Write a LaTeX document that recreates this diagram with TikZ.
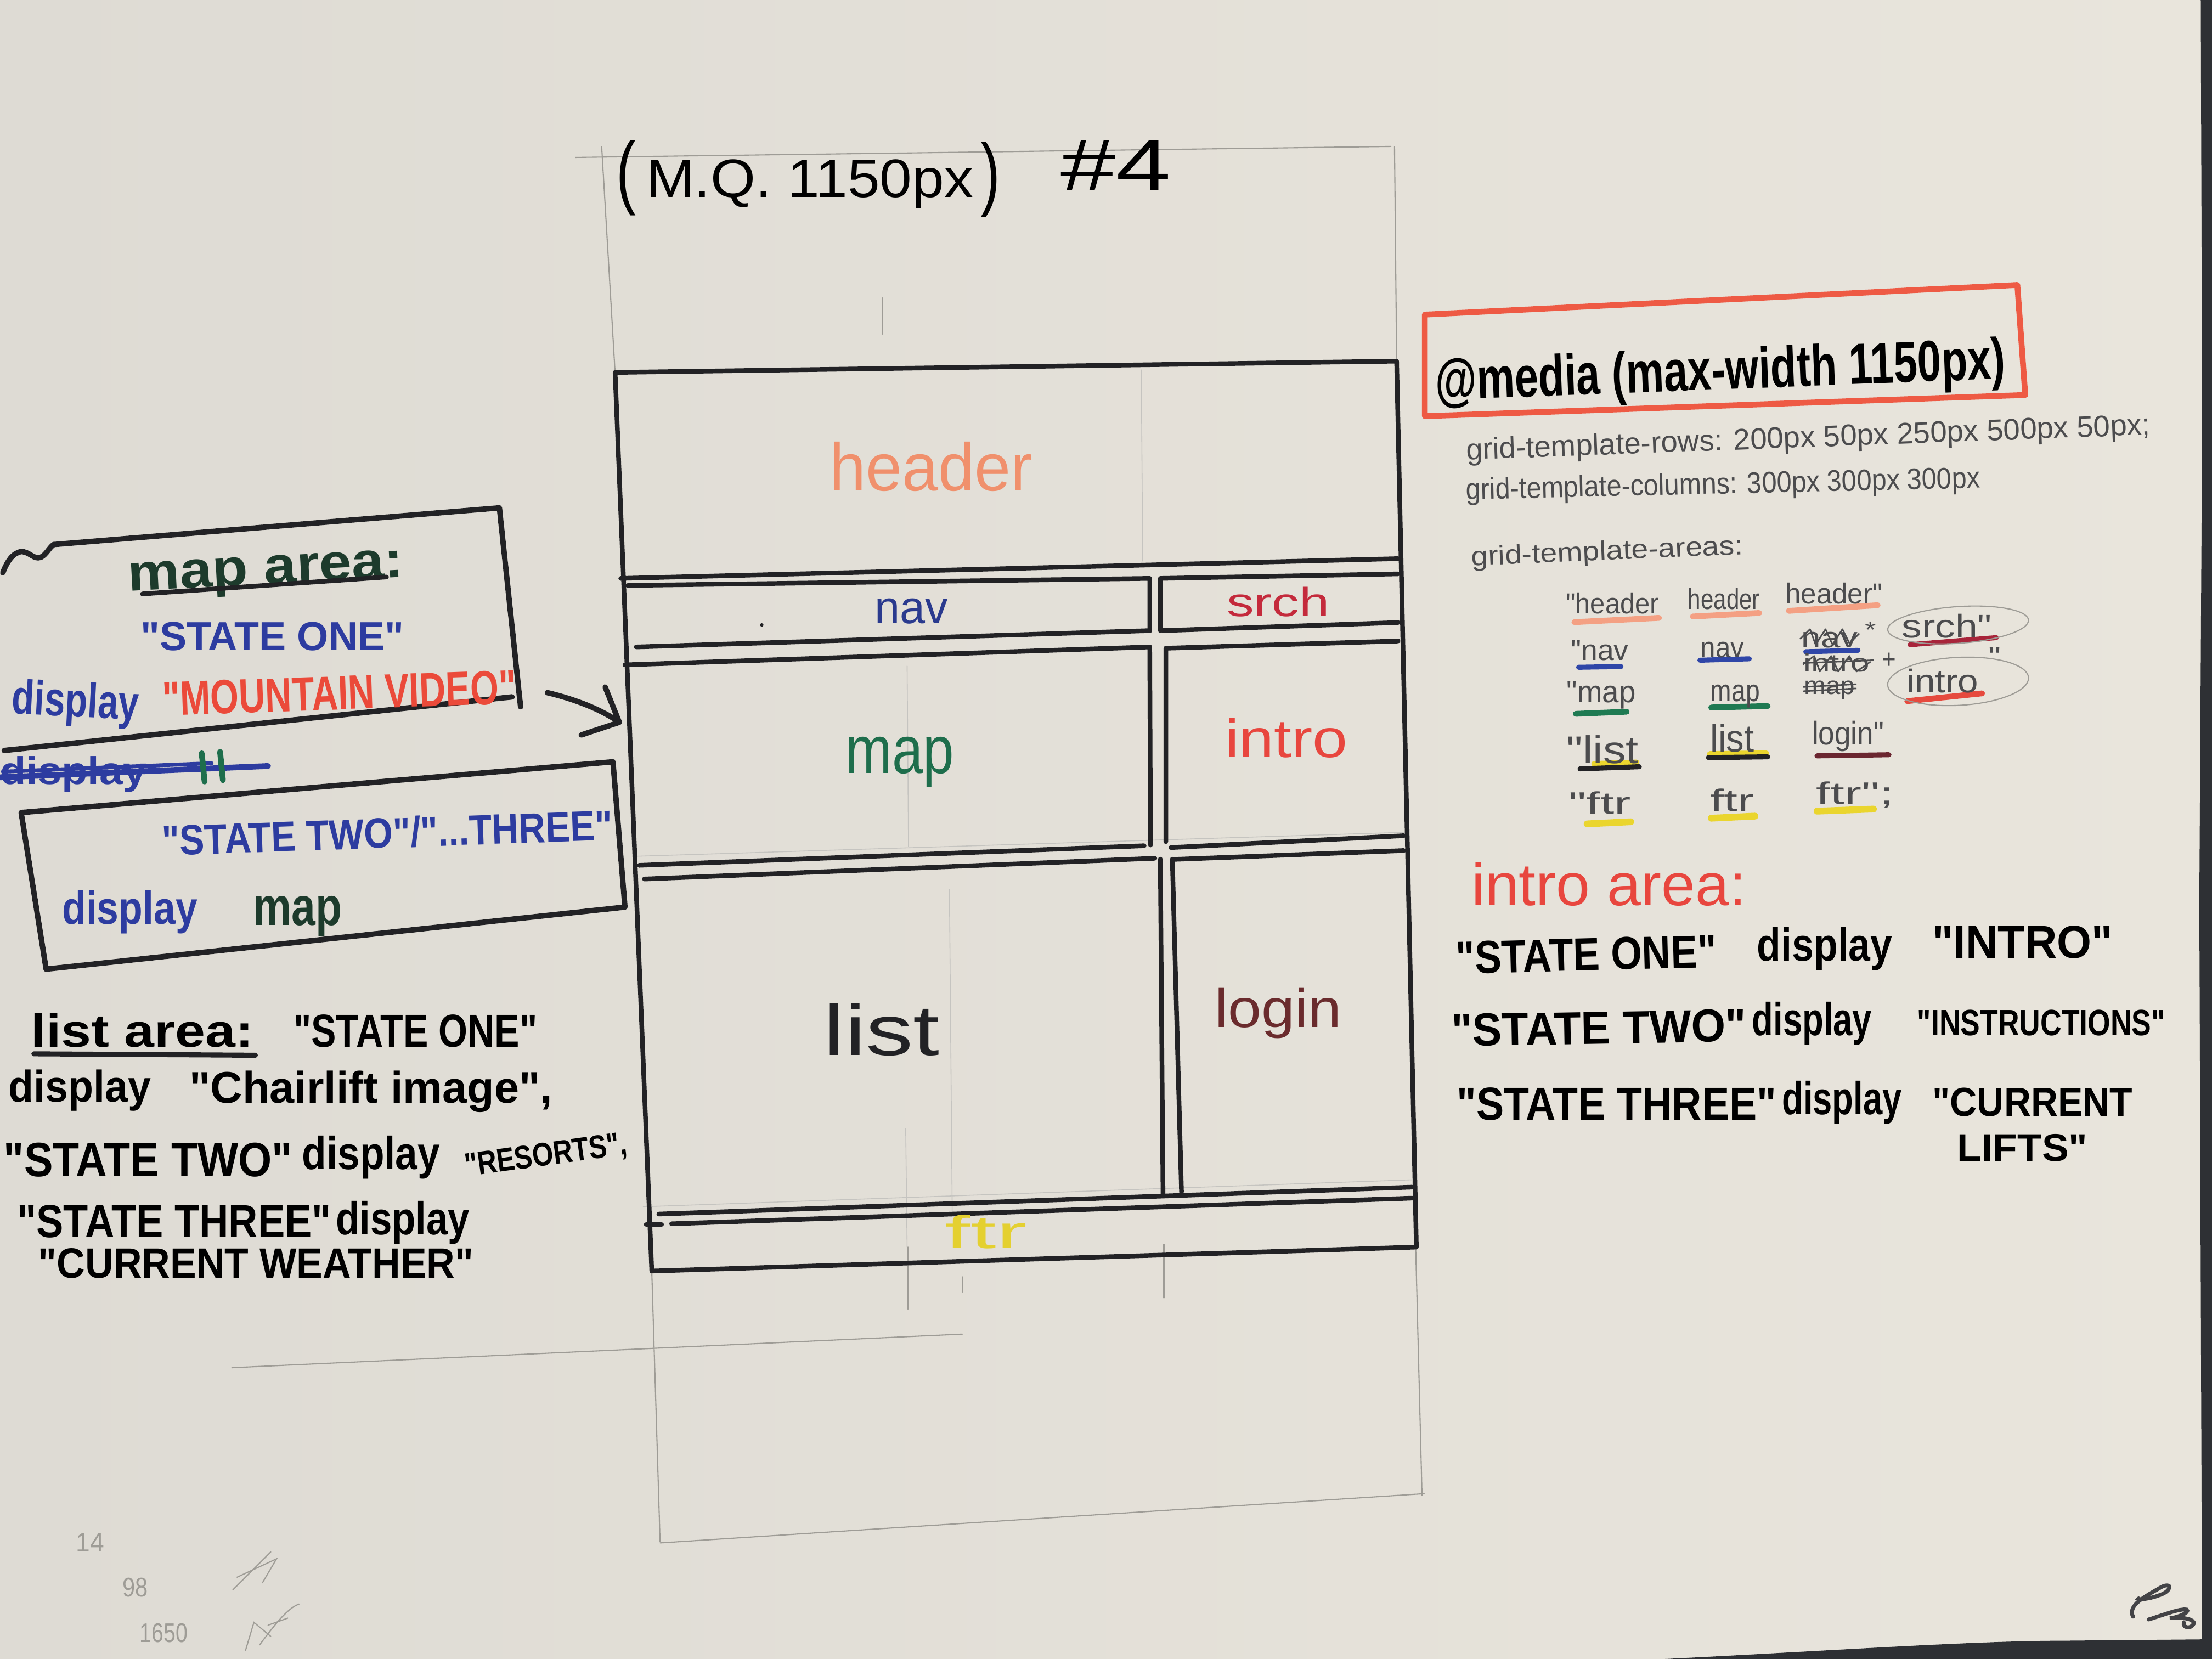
\documentclass[tikz,border=0pt]{standalone}
\usepackage{fontspec}
\setmainfont{Liberation Sans}[Ligatures=TeXOff]
\usepackage{graphicx}
\definecolor{paperL}{HTML}{DEDBD4}
\definecolor{paperR}{HTML}{E9E5DC}
\definecolor{carpet}{HTML}{2E3034}
\definecolor{inkblack}{HTML}{222225}
\definecolor{pencilgray}{HTML}{9E9C96}
\definecolor{pentext}{HTML}{4C4C4E}
\definecolor{salmon}{HTML}{F0906C}
\definecolor{navblue}{HTML}{2A3A8E}
\definecolor{srchred}{HTML}{C42A3C}
\definecolor{mapgreen}{HTML}{1E6E4C}
\definecolor{introred}{HTML}{E8463E}
\definecolor{loginbrown}{HTML}{6A2B2D}
\definecolor{ftryellow}{HTML}{E4D030}
\definecolor{mkblue}{HTML}{2D3CA0}
\definecolor{vidred}{HTML}{EB4A3A}
\definecolor{mediared}{HTML}{EE5A44}
\definecolor{greenblack}{HTML}{1D3B2C}
\definecolor{hlsalmon}{HTML}{F4A083}
\definecolor{hlblue}{HTML}{2F46A8}
\definecolor{hlgreen}{HTML}{1F7A52}
\definecolor{hlred}{HTML}{E64A3E}
\definecolor{hlcrimson}{HTML}{A8243A}
\definecolor{hlmaroon}{HTML}{6B2630}
\definecolor{hlyellow}{HTML}{EAD52E}

% one drawing unit in points, used to give each word its hand-written width
\newdimen\pxu \pxu=0.7305pt
\newcommand{\txtw}[3]{\resizebox{#2\pxu}{\height}{\fontsize{#1}{#1}\selectfont #3}}
\newcommand{\txtb}[3]{\resizebox{#2\pxu}{\height}{\fontsize{#1}{#1}\selectfont\bfseries #3}}

\tikzset{
  lbl/.style={inner sep=0pt, anchor=base},
  gridline/.style={draw=inkblack, line width=2.4pt, line cap=round, line join=round},
  boxline/.style={draw=inkblack, line width=2.8pt, line cap=round, line join=round},
  pencil/.style={draw=pencilgray, line width=0.6pt, line cap=round},
  faint/.style={draw=pencilgray!60, line width=0.45pt},
  hilite/.style={line width=2.6pt, line cap=round},
  scribble/.style={draw=pentext, line width=0.8pt, line join=round},
}

\begin{document}
\begin{tikzpicture}[x=0.025714cm, y=-0.025714cm]
\useasboundingbox (0,0) rectangle (1568,1176);

% ---------- sheet of paper on the carpet ----------
\shade[left color=paperL, right color=paperR] (0,0) rectangle (1568,1176);
\fill[carpet] (1560,0) -- (1568,0) -- (1568,1176) -- (1561,1176) -- (1559,640) -- (1561,300) -- cycle;
\fill[carpet] (1180,1176) .. controls (1300,1170) and (1400,1163) .. (1463,1163) -- (1568,1162) -- (1568,1176) -- cycle;

% ---------- pencil construction lines ----------
\draw[pencil] (408,111.6) -- (986,103.8);
\draw[pencil] (426.5,104) -- (436,264);
\draw[pencil] (988.5,104) -- (990,256);
\draw[pencil] (625.7,211) -- (625.7,237);
\draw[pencil] (462,901) -- (467.9,1093);
\draw[pencil] (1003.5,884) -- (1008,1060);
\draw[pencil] (467.9,1093.7) -- (1009.5,1058.8);
\draw[pencil] (164.3,969.5) -- (682.2,945.7);
\draw[pencil] (643.5,884) -- (643.5,928);
\draw[pencil] (682.2,905) -- (682.2,916);
\draw[pencil] (825,882) -- (825,920);
\draw[faint] (662,275) -- (662,400);
\draw[faint] (809,262) -- (810,398);
\draw[faint] (643,472) -- (644,600);
\draw[faint] (673,630) -- (675,860);
\draw[faint] (642,800) -- (643,884);
\draw[faint] (455.7,855.4) -- (1000.8,836.3);
\draw[faint] (450,607) -- (995,590);

% ---------- page title ----------
\node[lbl] (tlp) at (444,141) {\txtw{42}{14}{(}};
\node[lbl] (tmq) at (574,140) {\txtw{28}{232}{M.Q. 1150px}};
\node[lbl] (trp) at (702,142) {\txtw{42}{14}{)}};
\node[lbl] (tno) at (791,135) {\txtw{38}{78}{\#4}};

% ---------- the grid layout ----------
\coordinate (fTL) at (436,264);
\coordinate (fTR) at (990,256);
\coordinate (fBR) at (1004,884);
\coordinate (fBL) at (462,901);
\draw[gridline] (fTL) -- (fTR) -- (fBR) -- (fBL) -- cycle;
% header / nav / srch
\draw[gridline] (440,410) -- (991,396);
\draw[gridline] (445,415) -- (815,410) -- (815,447);
\draw[gridline] (451,458.6) -- (815,447);
\draw[gridline] (822.5,447) -- (822.5,410) -- (991,406.8);
\draw[gridline] (824.4,447) -- (991,441.3);
% map / intro
\draw[gridline] (443,471.3) -- (815,458.6) -- (815.5,599);
\draw[gridline] (453,613.4) -- (811,599.5);
\draw[gridline] (826.4,596.6) -- (826.4,459.5) -- (991,454.4);
\draw[gridline] (830,600.8) -- (995,592.4);
% list / login
\draw[gridline] (456.8,623.1) -- (818.6,608.4);
\draw[gridline] (822.5,609) -- (824.4,847.5);
\draw[gridline] (832,609.2) -- (995,602.9);
\draw[gridline] (831,609) -- (837.5,845);
\draw[gridline] (467,860.6) -- (1001,841.5);
% footer
\draw[gridline] (476,867.5) -- (1001,849.3);
\draw[gridline] (458,868) -- (469,868);
\fill[inkblack] (540,443) circle (1.2);

% area names
\node[lbl, text=salmon] (hdr) at (660,348) {\txtw{35}{144}{header}};
\node[lbl, text=navblue] (nav) at (646,442) {\txtw{24}{52}{nav}};
\node[lbl, text=srchred] (src) at (906,437) {\txtw{21}{73}{srch}};
\node[lbl, text=mapgreen] (map) at (638,548) {\txtw{35}{77}{map}};
\node[lbl, text=introred] (itr) at (912,537) {\txtw{28}{87}{intro}};
\node[lbl, text=inkblack] (lst) at (625,748) {\txtw{37}{82}{list}};
\node[lbl, text=loginbrown] (lgn) at (906,728) {\txtw{28}{90}{login}};
\node[lbl, text=ftryellow] (ftr) at (699,885) {\txtw{24}{58}{ftr}};

% ---------- map area notes ----------
\draw[boxline] (2,406) .. controls (5,398) and (9,392) .. (15,391) .. controls (21,391) and (24,397) .. (29,395) .. controls (33,393) and (35,388) .. (38,386);
\coordinate (mbA) at (38,386);
\coordinate (mbB) at (354,360);
\coordinate (mbC) at (369,501);
\draw[boxline] (mbA) -- (mbB) -- (mbC);
\draw[boxline] (3,532) -- (363,494);

\node[lbl, text=greenblack, rotate=3] (mak) at (189,414) {\txtb{27}{196}{map area:}};
\draw[boxline, line width=2.4pt] (101,421) -- (274,409);
\node[lbl, text=mkblue] (so1) at (193,461) {\txtb{21}{187}{"STATE ONE"}};
\node[lbl, text=mkblue, rotate=-3] (ds1) at (53,508) {\txtb{25}{90}{display}};
\node[lbl, text=vidred, rotate=2] (mtv) at (241,503) {\txtb{25}{251}{"MOUNTAIN VIDEO"}};

% struck-out start of a line
\node[lbl, text=mkblue] (dsx) at (52,556) {\txtb{20}{104}{display}};
\draw[mkblue, line width=3pt, line cap=round] (0,551) -- (190,543);
\draw[mkblue, line width=2pt, line cap=round] (2,547) -- (150,541);
\draw[mapgreen, line width=3pt, line cap=round] (143,534) -- (145,554);
\draw[mapgreen, line width=3pt, line cap=round] (156,533) -- (158,553);

% second map note box
\coordinate (sbA) at (15,576);
\coordinate (sbB) at (434.5,540);
\coordinate (sbC) at (443,643);
\coordinate (sbD) at (32.7,687);
\draw[boxline] (sbA) -- (sbB) -- (sbC) -- (sbD) -- cycle;
\node[lbl, text=mkblue, rotate=2] (st23) at (275,601) {\txtb{22}{320}{"STATE TWO"/"...THREE"}};
\node[lbl, text=mkblue] (ds2) at (92,655) {\txtb{24}{96}{display}};
\node[lbl, text=greenblack] (mpk) at (211,656) {\txtb{28}{63}{map}};

% arrow into the map area
\coordinate (arS) at (388,491);
\coordinate (arE) at (439,512);
\draw[boxline] (arS) .. controls (405,495) and (425,502) .. (arE);
\draw[boxline] (429,487) -- (arE) -- (412,521);

% ---------- list area notes ----------
\node[lbl] (la1) at (101,742) {\txtb{24}{158}{list area:}};
\draw[boxline, line width=2.6pt] (24,747) -- (181,748);
\node[lbl] (la2) at (294.5,742) {\txtb{24}{173}{"STATE ONE"}};
\node[lbl] (lb1) at (56.5,781) {\txtb{23}{101}{display}};
\node[lbl] (lb2) at (263,782) {\txtb{23}{258}{"Chairlift image",}};
\node[lbl] (lc1) at (105,834) {\txtb{25}{205}{"STATE TWO"}};
\node[lbl] (lc2) at (263,829) {\txtb{24}{98}{display}};
\node[lbl, rotate=8] (lc3) at (388,826) {\txtb{17}{116}{"RESORTS",}};
\node[lbl] (ld1) at (123.5,877) {\txtb{24}{223}{"STATE THREE"}};
\node[lbl] (ld2) at (285.5,875) {\txtb{24}{95}{display}};
\node[lbl] (le1) at (181.5,906) {\txtb{22}{309}{"CURRENT WEATHER"}};

% ---------- media query notes ----------
\coordinate (rbA) at (1010,223);
\coordinate (rbB) at (1430,202);
\coordinate (rbC) at (1435.6,280);
\coordinate (rbD) at (1010,295);
\draw[draw=mediared, line width=3pt, line join=round, line cap=round] (rbA) -- (rbB) -- (rbC) -- (rbD) -- cycle;
\node[lbl, rotate=2.2] (mq) at (1220,276) {\txtb{30}{405}{@media (max-width 1150px)}};

\node[lbl, text=pentext, rotate=2.1] (gtr) at (1282,317) {\txtw{15.5}{486}{grid-template-rows: 200px 50px 250px 500px 50px;}};
\node[lbl, text=pentext, rotate=1.3] (gtc) at (1221.5,350) {\txtw{15.5}{365}{grid-template-columns: 300px 300px 300px}};
\node[lbl, text=pentext, rotate=2.4] (gta) at (1139.5,397) {\txtw{14}{193}{grid-template-areas:}};

% row 1
\draw[hlsalmon, hilite, line width=3pt] (1116,441) -- (1176,438);
\draw[hlsalmon, hilite, line width=3pt] (1200,437) -- (1247,434.5);
\draw[hlsalmon, hilite, line width=3pt] (1268,433) -- (1331,429);
\node[lbl, text=pentext] (r1a) at (1143,435) {\txtw{15}{66}{"header}};
\node[lbl, text=pentext] (r1b) at (1222,432) {\txtw{15}{51}{header}};
\node[lbl, text=pentext] (r1c) at (1300,428) {\txtw{15}{69}{header"}};

% row 2
\draw[hlblue, hilite] (1119,473) -- (1149,472.5);
\draw[hlblue, hilite] (1205,468) -- (1240,467);
\draw[hlblue, hilite] (1280,462) -- (1317,461);
\draw[hlcrimson, hilite] (1354,457) -- (1415,452);
\node[lbl, text=pentext] (r2a) at (1134,468) {\txtw{15}{41}{"nav}};
\node[lbl, text=pentext] (r2b) at (1221,466) {\txtw{15}{31}{nav}};
\node[lbl, text=pentext] (r2c) at (1297,459) {\txtw{15}{40}{nav}};
\draw[scribble] (1276,453) -- (1283,446) -- (1287,457) -- (1294,446) -- (1299,457) -- (1306,446) -- (1311,456) -- (1318,449);
\node[lbl, text=pentext] (r2s) at (1326,452) {\txtw{12}{8}{*}};
\node[lbl, text=pentext] (r2d) at (1380,452) {\txtw{17}{64}{srch"}};
\draw[pencil, rotate around={4:(1388,443)}] (1388,443) ellipse [x radius=50, y radius=13];

% row 3
\draw[hlgreen, hilite, line width=3pt] (1117,506) -- (1153,504.5);
\draw[hlgreen, hilite, line width=3pt] (1213,501.5) -- (1253,500.5);
\draw[hlred, hilite, line width=3pt] (1352,497) -- (1405,491.5);
\node[lbl, text=pentext] (r3a) at (1135,498) {\txtw{16}{49}{"map}};
\node[lbl, text=pentext] (r3b) at (1230,497) {\txtw{16}{35}{map}};
\node[lbl, text=pentext] (r3c) at (1302,476) {\txtw{13}{47}{intro}};
\draw[scribble] (1278,471) -- (1286,465) -- (1290,476) -- (1298,465) -- (1303,476) -- (1311,465) -- (1316,476) -- (1326,469);
\draw[scribble] (1278,470) -- (1328,468);
\node[lbl, text=pentext] (r3p) at (1339,474) {\txtw{14}{10}{+}};
\node[lbl, text=pentext] (r3d) at (1297,492) {\txtw{13}{36}{map}};
\draw[scribble] (1278,487) -- (1316,485);
\draw[scribble] (1278,490) -- (1316,488);
\node[lbl, text=pentext] (r3e) at (1377,491) {\txtw{17}{51}{intro}};
\node[lbl, text=pentext] (r3q) at (1414,472) {\txtw{14}{9}{"}};
\draw[pencil, rotate around={3:(1388,483)}] (1388,483) ellipse [x radius=50, y radius=17];

% row 4
\draw[hlyellow, hilite, line width=3pt] (1130,541.5) -- (1160,540.5);
\draw[inkblack, hilite] (1120,545) -- (1162,543.5);
\draw[hlyellow, hilite, line width=3pt] (1212,534.5) -- (1252,534);
\draw[inkblack, hilite] (1211,537) -- (1253,536.5);
\draw[hlmaroon, hilite] (1288,535.8) -- (1339,535);
\node[lbl, text=pentext] (r4a) at (1136,541) {\txtw{20}{51}{"list}};
\node[lbl, text=pentext] (r4b) at (1228,533) {\txtw{20}{31}{list}};
\node[lbl, text=pentext] (r4c) at (1310,528) {\txtw{17}{51}{login"}};

% row 5
\draw[hlyellow, hilite, line width=3.5pt] (1125,584) -- (1156,582.5);
\draw[hlyellow, hilite, line width=3.5pt] (1213,580) -- (1244,578.5);
\draw[hlyellow, hilite, line width=3.5pt] (1288,575) -- (1328,573.5);
\node[lbl, text=pentext] (r5a) at (1134,577) {\txtw{16}{44}{"ftr}};
\node[lbl, text=pentext] (r5b) at (1228,575) {\txtw{16}{31}{ftr}};
\node[lbl, text=pentext] (r5c) at (1315,570) {\txtw{16}{55}{ftr";}};

% ---------- intro area notes ----------
\node[lbl, text=introred] (ia) at (1140.5,642) {\txtw{31}{195}{intro area:}};
\node[lbl, rotate=1.5] (i1a) at (1124.7,688) {\txtb{24}{185}{"STATE ONE"}};
\node[lbl] (i1b) at (1293.5,681) {\txtb{24}{96}{display}};
\node[lbl] (i1c) at (1433.7,679) {\txtb{24}{128}{"INTRO"}};
\node[lbl, rotate=1] (i2a) at (1133.6,740) {\txtb{24}{209.5}{"STATE TWO"}};
\node[lbl] (i2b) at (1284.5,734) {\txtb{24}{85}{display}};
\node[lbl] (i2c) at (1447,734) {\txtb{19}{176}{"INSTRUCTIONS"}};
\node[lbl] (i3a) at (1146,794) {\txtb{24}{227}{"STATE THREE"}};
\node[lbl] (i3b) at (1305.7,790) {\txtb{24}{85}{display}};
\node[lbl] (i3c) at (1440.8,791) {\txtb{21}{142}{"CURRENT}};
\node[lbl] (i4) at (1433.7,823) {\txtb{20}{92.5}{LIFTS"}};

% ---------- pencil jottings, lower left ----------
\node[lbl, text=pencilgray] (j1) at (64,1100) {\txtw{14}{20}{14}};
\node[lbl, text=pencilgray] (j2) at (96,1132) {\txtw{14}{18}{98}};
\node[lbl, text=pencilgray] (j3) at (116,1164) {\txtw{14}{34}{1650}};
\draw[pencil] (165,1127) -- (192,1100);
\draw[pencil] (168,1118) -- (196,1105) -- (186,1122);
\draw[pencil] (174,1170) -- (180,1150) -- (192,1160);
\draw[pencil] (184,1166) .. controls (196,1150) and (204,1140) .. (212,1137);
\draw[pencil] (190,1152) -- (204,1147);

% ---------- initials, lower right ----------
\draw[draw=inkblack!85, line width=2pt, line cap=round] (1512,1146) .. controls (1508,1138) and (1520,1132) .. (1532,1125) .. controls (1540,1121) and (1540,1128) .. (1530,1131) .. controls (1522,1134) and (1514,1134) .. (1516,1133);
\draw[draw=inkblack!85, line width=2pt, line cap=round] (1523,1148) .. controls (1533,1145) and (1545,1140) .. (1550,1141) .. controls (1553,1143) and (1542,1147) .. (1538,1147) .. controls (1548,1146) and (1556,1148) .. (1555,1151) .. controls (1553,1155) and (1547,1154) .. (1548,1150);

\end{tikzpicture}
\end{document}
